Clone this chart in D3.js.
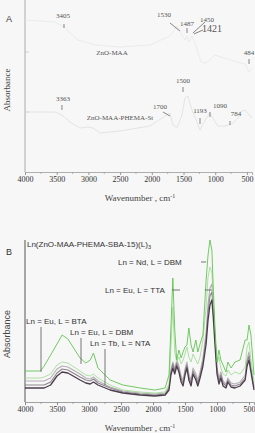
<!DOCTYPE html>
<html>
<head>
<meta charset="utf-8">
<script src="https://cdnjs.cloudflare.com/ajax/libs/d3/7.8.5/d3.min.js"></script>
<style>
  html, body { margin: 0; padding: 0; background: #f7f7f7; }
  svg { display: block; }
</style>
</head>
<body>
<div id="chart"></div>
<script>
// ---- data ----
const tickValues = [4000, 3500, 3000, 2500, 2000, 1500, 1000, 500];
const minorTicks = [3750, 3250, 2750, 2250, 1750, 1250, 750];

// panel A
const aWaveTop = [4000, 3527, 3385, 3290, 3164, 2896, 2502, 2029, 1713, 1603, 1524, 1477, 1445, 1414, 1366, 1303, 1224, 1146, 1004, 767, 530, 467, 420];
const znoMaa = [1.52, 1.50, 1.45, 1.39, 1.32, 1.27, 1.25, 1.27, 1.36, 1.46, 1.37, 1.32, 1.36, 1.30, 1.36, 1.26, 1.10, 1.09, 1.17, 1.12, 1.08, 1.00, 1.04];
const aWaveBot = [4000, 3527, 3417, 3290, 3133, 3006, 2928, 2817, 2502, 2029, 1792, 1713, 1666, 1603, 1524, 1477, 1430, 1366, 1287, 1240, 1193, 1130, 1083, 1020, 957, 846, 736, 641, 609, 530, 420];
const znoMaaPhema = [0.60, 0.60, 0.57, 0.50, 0.44, 0.45, 0.44, 0.39, 0.41, 0.46, 0.56, 0.59, 0.47, 0.44, 0.57, 0.74, 0.76, 0.62, 0.50, 0.42, 0.48, 0.55, 0.59, 0.52, 0.46, 0.46, 0.48, 0.54, 0.60, 0.62, 0.54];

const aLabels = [
  ["3405", 3401, 1.54, 7], ["1530", 1808, 1.55, 7], ["1487", 1445, 1.46, 7],
  ["1450", 1130, 1.50, 7], ["1421", 1051, 1.40, 10], ["ZnO-MAA", 2628, 1.17, 7],
  ["484", 467, 1.17, 7], ["1500", 1508, 0.89, 7], ["3363", 3401, 0.71, 7],
  ["1700", 1871, 0.63, 7], ["ZnO-MAA-PHEMA-St", 2502, 0.52, 7], ["1193", 1240, 0.59, 7],
  ["1090", 925, 0.64, 7], ["784", 673, 0.56, 7]
];
const aLeaders = [
  [[3385, 1.48], [3385, 1.44]], [[1713, 1.49], [1556, 1.41]], [[1445, 1.44], [1445, 1.39]],
  [[1161, 1.50], [1351, 1.39]], [[1193, 1.42], [1335, 1.38]], [[467, 1.13], [467, 1.08]],
  [[1508, 0.85], [1508, 0.80]], [[3417, 0.67], [3417, 0.62]], [[1824, 0.60], [1713, 0.56]],
  [[1240, 0.54], [1240, 0.48]], [[1083, 0.60], [1083, 0.55]], [[767, 0.51], [767, 0.47]]
];

// panel B
const bWave = [4000, 3760, 3700, 3600, 3500, 3420, 3330, 3140, 3050, 2980, 2930, 2860, 2670, 2470, 2200, 1970, 1810, 1750, 1720, 1690, 1660, 1630, 1595, 1560, 1530, 1500, 1470, 1440, 1405, 1375, 1330, 1300, 1265, 1220, 1170, 1140, 1110, 1080, 1060, 1030, 1000, 970, 940, 905, 860, 830, 780, 720, 640, 560, 530, 500, 470, 422];
const tbNta = [0.14, 0.14, 0.14, 0.17, 0.26, 0.30, 0.29, 0.22, 0.19, 0.18, 0.20, 0.17, 0.12, 0.09, 0.07, 0.06, 0.07, 0.12, 0.27, 0.34, 0.28, 0.36, 0.30, 0.20, 0.16, 0.27, 0.34, 0.22, 0.16, 0.28, 0.22, 0.16, 0.24, 0.36, 0.58, 0.82, 0.97, 1.02, 0.86, 0.56, 0.28, 0.18, 0.24, 0.16, 0.14, 0.20, 0.15, 0.14, 0.16, 0.22, 0.36, 0.42, 0.30, 0.12];
const euDbm = [0.17, 0.17, 0.17, 0.20, 0.29, 0.33, 0.32, 0.25, 0.22, 0.21, 0.23, 0.19, 0.14, 0.10, 0.08, 0.07, 0.08, 0.14, 0.30, 0.38, 0.31, 0.39, 0.33, 0.23, 0.19, 0.30, 0.37, 0.25, 0.19, 0.31, 0.25, 0.19, 0.27, 0.40, 0.64, 0.90, 1.06, 1.10, 0.94, 0.62, 0.32, 0.21, 0.27, 0.19, 0.16, 0.22, 0.17, 0.16, 0.18, 0.24, 0.40, 0.46, 0.33, 0.14];
const euBta = [0.21, 0.21, 0.21, 0.24, 0.33, 0.36, 0.35, 0.28, 0.24, 0.23, 0.25, 0.21, 0.15, 0.11, 0.09, 0.08, 0.09, 0.15, 0.32, 0.40, 0.33, 0.42, 0.36, 0.26, 0.22, 0.33, 0.40, 0.28, 0.22, 0.34, 0.28, 0.22, 0.30, 0.44, 0.70, 0.98, 1.14, 1.18, 1.00, 0.66, 0.35, 0.24, 0.30, 0.21, 0.18, 0.24, 0.19, 0.18, 0.20, 0.27, 0.43, 0.50, 0.36, 0.16];
const euTta = [0.24, 0.24, 0.25, 0.28, 0.37, 0.40, 0.39, 0.31, 0.27, 0.26, 0.28, 0.24, 0.17, 0.12, 0.10, 0.09, 0.10, 0.18, 0.55, 0.95, 0.50, 0.40, 0.45, 0.38, 0.42, 0.48, 0.55, 0.45, 0.40, 0.48, 0.42, 0.38, 0.45, 0.62, 0.95, 1.25, 1.35, 1.30, 1.05, 0.65, 0.38, 0.45, 0.34, 0.28, 0.26, 0.32, 0.27, 0.30, 0.28, 0.35, 0.55, 0.60, 0.42, 0.20];
const ndDbm = [0.31, 0.31, 0.36, 0.47, 0.58, 0.67, 0.63, 0.44, 0.39, 0.42, 0.49, 0.34, 0.22, 0.17, 0.14, 0.12, 0.14, 0.27, 0.75, 1.24, 0.72, 0.42, 0.52, 0.44, 0.50, 0.55, 0.57, 0.74, 0.57, 0.50, 0.62, 0.50, 0.58, 0.67, 1.22, 1.47, 1.62, 1.52, 1.17, 0.72, 0.40, 0.52, 0.42, 0.37, 0.30, 0.40, 0.34, 0.40, 0.42, 0.62, 0.62, 0.77, 0.67, 0.27];

const bSeries = [
  { name: "Eu BTA", values: euBta, color: "#b4b0b4", width: 1.1 },
  { name: "Eu DBM", values: euDbm, color: "#8d858d", width: 1.1 },
  { name: "Eu TTA", values: euTta, color: "#a6dc98", width: 0.9 },
  { name: "Tb NTA", values: tbNta, color: "#4b3d4b", width: 1.3 },
  { name: "Nd DBM", values: ndDbm, color: "#62c452", width: 0.9 }
];

const bLabels = [
  ["Ln = Nd, L = DBM", 2547, 1.37], ["Ln = Eu, L = TTA", 2750, 1.09],
  ["Ln = Eu, L = BTA", 3984, 0.78], ["Ln = Eu, L = DBM", 3297, 0.67],
  ["Ln = Tb, L = NTA", 2984, 0.56]
];
const bLeaders = [
  [[3750, 0.75], [3750, 0.30]], [[3125, 0.64], [3125, 0.38]], [[2750, 0.53], [2750, 0.17]],
  [[1703, 1.12], [1578, 1.12]], [[1190, 1.12], [1080, 1.12]], [[1250, 1.40], [1170, 1.40]]
];

// ---- drawing ----
const W = 255, H = 433;
const svg = d3.select("#chart").append("svg").attr("width", W).attr("height", H);

function panel(opt) {
  const x = d3.scaleLinear().domain(opt.xDomain).range([25, opt.right]);
  const y = d3.scaleLinear().domain(opt.yDomain).range([opt.bottom, opt.top]);
  const g = svg.append("g");

  // bottom axis
  const ax = g.append("g").attr("transform", `translate(0,${opt.bottom})`)
    .call(d3.axisBottom(x).tickValues(tickValues).tickSize(3).tickFormat(d3.format("d")));
  ax.select(".domain").attr("stroke", opt.xAxisColor).attr("stroke-width", 0.8);
  ax.selectAll(".tick line").attr("stroke", opt.xAxisColor);
  ax.selectAll(".tick text").attr("dy", "0.5em").style("font", "8px 'Liberation Serif', serif").attr("fill", "#333");
  g.append("g").selectAll("line").data(minorTicks).join("line")
    .attr("x1", d => x(d)).attr("x2", d => x(d)).attr("y1", opt.bottom).attr("y2", opt.bottom + 2)
    .attr("stroke", opt.xAxisColor).attr("stroke-width", 0.7);

  // left axis
  g.append("line").attr("x1", 25).attr("x2", 25).attr("y1", opt.top).attr("y2", opt.bottom)
    .attr("stroke", opt.yAxisColor).attr("stroke-width", opt.yAxisWidth);

  // axis titles
  const xt = g.append("text").attr("x", 140).attr("y", opt.bottom + 29).attr("text-anchor", "middle")
    .style("font", "9px 'Liberation Serif', serif").attr("fill", "#444");
  xt.append("tspan").text("Wavenumber , cm");
  xt.append("tspan").attr("dy", -3).style("font-size", "6px").text("-1");
  g.append("text").attr("transform", `translate(10,${opt.absY}) rotate(-90)`).attr("text-anchor", "middle")
    .style("font", opt.absFont).attr("fill", "#444").text("Absorbance");
  g.append("text").attr("x", 9).attr("y", opt.letterY).attr("text-anchor", "middle")
    .style("font", "9px 'Liberation Sans', sans-serif").attr("fill", "#333").text(opt.letter);

  return { x, y, g };
}

// Panel A
const A = panel({ xDomain: [4000, 420], yDomain: [0, 1.72], right: 252, top: 0, bottom: 172,
  xAxisColor: "#9a9a9a", yAxisColor: "#b8b8b8", yAxisWidth: 1.2, absY: 90, letter: "A", letterY: 22,
  absFont: "9px 'Liberation Serif', serif" });
A.g.append("g").selectAll("line").data([0.60, 1.20]).join("line")
  .attr("x1", 25).attr("x2", 29).attr("y1", d => A.y(d)).attr("y2", d => A.y(d))
  .attr("stroke", "#c8c8c8").attr("stroke-width", 0.8);

// the spectra in panel A are very faint in the reference
const lineA = (wave) => d3.line().x((d, i) => A.x(wave[i])).y(d => A.y(d));
A.g.append("path").attr("d", lineA(aWaveTop)(znoMaa)).attr("fill", "none").attr("stroke", "#e7e7e7").attr("stroke-width", 0.8);
A.g.append("path").attr("d", lineA(aWaveBot)(znoMaaPhema)).attr("fill", "none").attr("stroke", "#dedede").attr("stroke-width", 0.8);

A.g.append("g").selectAll("line").data(aLeaders).join("line")
  .attr("x1", d => A.x(d[0][0])).attr("y1", d => A.y(d[0][1]))
  .attr("x2", d => A.x(d[1][0])).attr("y2", d => A.y(d[1][1]))
  .attr("stroke", "#777").attr("stroke-width", 0.9);
A.g.append("g").selectAll("text").data(aLabels).join("text")
  .attr("x", d => A.x(d[1])).attr("y", d => A.y(d[2])).attr("text-anchor", "middle")
  .style("font-family", "'Liberation Serif', serif").style("font-size", d => d[3] + "px")
  .attr("fill", "#555").text(d => d[0]);

// Panel B
const B = panel({ xDomain: [4000, 422], yDomain: [0, 1.62], right: 254, top: 240, bottom: 402,
  xAxisColor: "#8a8a8a", yAxisColor: "#555", yAxisWidth: 1, absY: 334, letter: "B", letterY: 255,
  absFont: "9px 'Liberation Sans', sans-serif" });

const lineB = d3.line().x((d, i) => B.x(bWave[i])).y(d => B.y(d));
B.g.append("g").selectAll("path").data(bSeries).join("path")
  .attr("d", d => lineB(d.values)).attr("fill", "none")
  .attr("stroke", d => d.color).attr("stroke-width", d => d.width).attr("stroke-linejoin", "round");

B.g.append("g").selectAll("line").data(bLeaders).join("line")
  .attr("x1", d => B.x(d[0][0])).attr("y1", d => B.y(d[0][1]))
  .attr("x2", d => B.x(d[1][0])).attr("y2", d => B.y(d[1][1]))
  .attr("stroke", "#555").attr("stroke-width", 0.8);

const title = B.g.append("text").attr("x", B.x(3969)).attr("y", B.y(1.55))
  .style("font", "8px 'Liberation Sans', sans-serif").attr("fill", "#333");
title.append("tspan").text("Ln(ZnO-MAA-PHEMA-SBA-15)(L)");
title.append("tspan").attr("dy", 2).style("font-size", "5.5px").text("3");

B.g.append("g").selectAll("text").data(bLabels).join("text")
  .attr("x", d => B.x(d[1])).attr("y", d => B.y(d[2]))
  .style("font", "8px 'Liberation Sans', sans-serif").attr("fill", "#333").text(d => d[0]);
</script>
</body>
</html>
